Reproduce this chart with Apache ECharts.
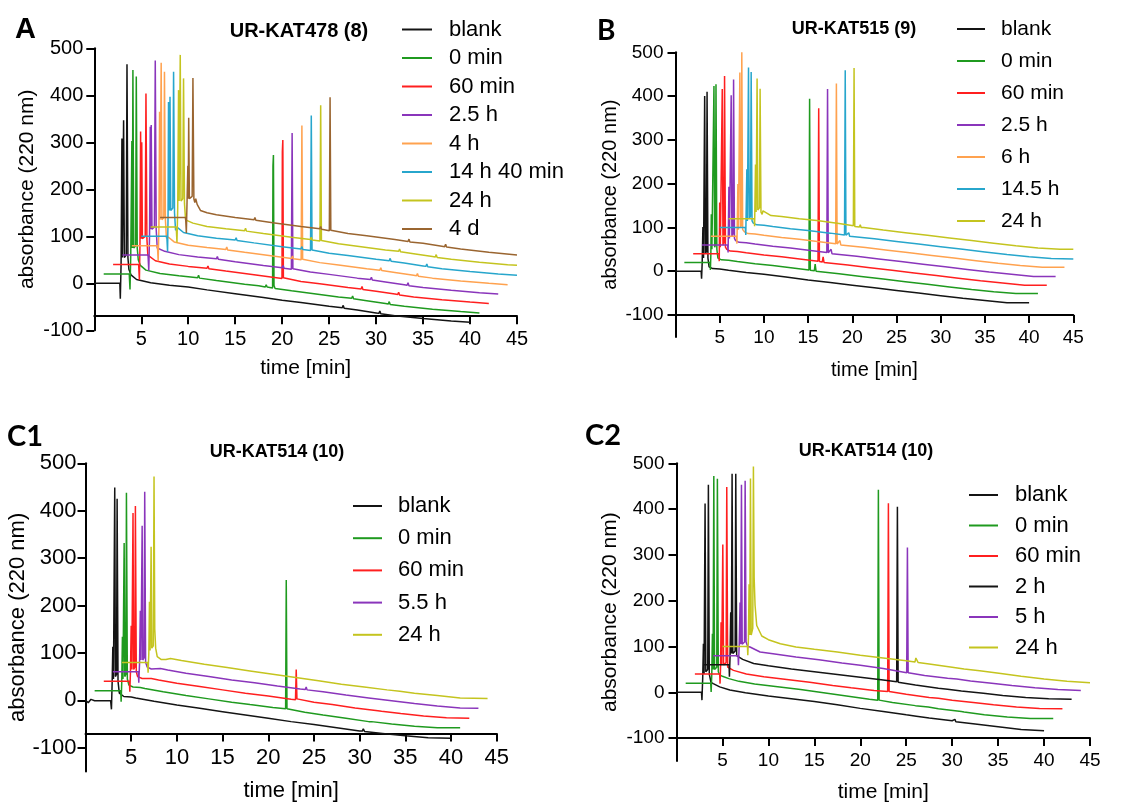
<!DOCTYPE html>
<html><head><meta charset="utf-8">
<script src="https://cdn.jsdelivr.net/npm/echarts@6/dist/echarts.min.js"></script>
<style>html,body{margin:0;padding:0;background:#fff}#c{width:1141px;height:804px}</style>
</head><body><div id="c"></div>
<script>
// ---------- legend names ----------
const namesA = ['blank','0 min','60 min','2.5 h','4 h','14 h 40 min','24 h','4 d'];
const namesB = ['blank','0 min','60 min','2.5 h','6 h','14.5 h','24 h'];
const namesC1 = ['blank','0 min','60 min','5.5 h','24 h'];
const namesC2 = ['blank','0 min','60 min','2 h','5 h','24 h'];
const yTicks = [-100,0,100,200,300,400,500];

// ---------- Panel A: UR-KAT478 (8) ----------
const A_blank = [[0,0],[2.72,0],[2.77,-33],[2.85,40],[2.94,308],[2.99,55],[3.12,347],[3.2,55],[3.4,60],[3.48,466],[3.58,55],[3.68,30],[3.9,18],[4.5,8],[6,1],[8,-4],[10,-8],[12,-14],[15,-22],[18,-30],[20,-36],[22,-41],[25,-49],[26.4,-52],[26.5,-47],[26.6,-53],[28,-57],[30,-63],[30.3,-64],[30.4,-59],[30.5,-65],[32,-69],[35,-75],[38,-80],[40,-83]];
const A_0min = [[1,20],[3.72,20],[3.8,-13],[3.88,60],[4.0,303],[4.05,75],[4.11,454],[4.2,75],[4.4,80],[4.47,440],[4.57,75],[4.68,50],[4.9,38],[5.5,28],[7,21],[9,16],[11,12],[11.1,17],[11.2,11],[13,6],[16,-2],[17.5,-5],[17.6,-1],[17.7,-6],[18.2,-8],[18.3,-3],[18.4,-8],[18.98,-10],[19.02,250],[19.07,273],[19.13,-5],[19.25,-11],[21,-16],[23,-21],[26,-29],[27.4,-32],[27.5,-27],[27.6,-33],[29,-37],[31,-43],[31.3,-44],[31.4,-39],[31.5,-45],[33,-49],[36,-55],[39,-60],[41,-63]];
const A_60min = [[2,40],[4.72,40],[4.8,7],[4.86,80],[4.93,323],[4.98,95],[5.05,300],[5.12,95],[5.42,100],[5.5,404],[5.6,95],[5.7,60],[5.9,58],[6.5,48],[8,41],[10,36],[12,32],[12.1,37],[12.2,31],[14,26],[17,18],[19.98,10],[20.02,280],[20.07,305],[20.13,12],[20.3,8],[22,4],[24,-1],[27,-9],[28.4,-12],[28.5,-7],[28.6,-13],[30,-17],[32,-23],[32.3,-24],[32.4,-19],[32.5,-25],[34,-29],[37,-35],[40,-40],[42,-43]];
const A_2_5h = [[3,60],[5.72,60],[5.8,27],[5.88,100],[5.96,333],[6.01,115],[6.06,337],[6.14,115],[6.4,120],[6.49,474],[6.59,115],[6.7,75],[6.9,78],[7.5,68],[9,61],[11,56],[13,52],[13.1,57],[13.2,51],[15,46],[18,38],[20,33],[20.1,38],[20.2,32],[20.98,30],[21.06,320],[21.14,31],[21.3,28],[23,24],[25,19],[28,11],[29.4,8],[29.5,13],[29.6,7],[31,3],[33,-3],[33.3,-4],[33.4,1],[33.5,-5],[35,-9],[38,-15],[41,-20],[43,-23]];
const A_4h = [[4,80],[6.72,80],[6.8,47],[6.88,120],[6.95,365],[7.0,135],[7.12,469],[7.2,135],[7.4,140],[7.47,450],[7.57,135],[7.68,96],[7.9,98],[8.5,88],[10,81],[12,76],[14,72],[14.1,77],[14.2,71],[16,66],[19,58],[21,53],[21.1,58],[21.2,52],[22.02,50],[22.1,336],[22.18,51],[22.3,48],[24,44],[26,39],[29,31],[30.4,28],[30.5,33],[30.6,27],[32,23],[34,17],[34.3,16],[34.4,21],[34.5,15],[36,11],[39,5],[42,0],[44,-3]];
const A_14h40 = [[5,100],[7.72,100],[7.8,67],[7.85,140],[7.9,386],[7.98,155],[8.06,397],[8.14,155],[8.36,160],[8.44,450],[8.54,150],[8.65,113],[8.9,118],[9.5,108],[11,101],[13,96],[15,92],[15.1,97],[15.2,91],[17,86],[20,78],[22,73],[22.1,78],[22.2,72],[23.02,70],[23.1,357],[23.18,71],[23.3,68],[25,64],[27,59],[30,51],[31.4,48],[31.5,53],[31.6,47],[33,43],[35,37],[35.3,36],[35.4,41],[35.5,35],[37,31],[40,25],[43,20],[45,17]];
const A_24h = [[6,120],[8.72,120],[8.8,87],[8.88,160],[8.97,411],[9.03,175],[9.15,486],[9.23,175],[9.42,180],[9.5,436],[9.6,170],[9.72,135],[9.9,138],[10.5,128],[12,121],[14,116],[16,112],[16.1,117],[16.2,111],[18,106],[21,98],[23,93],[23.1,98],[23.2,92],[24.02,90],[24.1,379],[24.18,91],[24.3,88],[26,84],[28,79],[31,71],[32.4,68],[32.5,73],[32.6,67],[34,63],[36,57],[36.3,56],[36.4,61],[36.5,55],[38,51],[41,45],[44,39.5],[45,38.5]];
const A_4d = [[7,140],[9.72,140],[9.8,107],[9.88,180],[9.96,250],[10.0,180],[10.05,352],[10.12,180],[10.42,185],[10.5,437],[10.6,180],[10.7,172],[10.8,180],[10.95,168],[11.3,155],[12,150],[13,146],[15,140],[17,135],[17.1,140],[17.2,134],[19,129],[22,121],[24,116],[24.1,121],[24.2,115],[25.02,112],[25.1,396],[25.18,113],[25.3,110],[27,106],[29,101],[32,93],[33.4,89],[33.5,94],[33.6,88],[35,85],[37,79],[37.3,78],[37.4,83],[37.5,77],[39,73],[42,66],[45,60]];

// ---------- Panel B: UR-KAT515 (9) ----------
const B_blank = [[0,0],[2.9,0],[2.95,-17],[3.02,20],[3.1,101],[3.17,30],[3.3,400],[3.38,40],[3.5,45],[3.57,410],[3.67,30],[3.8,10],[4.2,6],[5,5],[6,2],[8,-3],[10,-7],[12.5,-13],[15,-20],[17.5,-26],[20,-32],[22.5,-38],[25,-44],[27.5,-50],[30,-56],[32.5,-62],[35,-67],[37.5,-72],[40,-72]];
const B_0min = [[1,20],[3.9,20],[3.95,3],[4.0,40],[4.05,130],[4.12,50],[4.35,423],[4.43,55],[4.52,60],[4.58,427],[4.68,50],[4.8,30],[5.2,26],[6,25],[7,22],[9,17],[11,13],[13.5,7],[15.1,3],[15.17,394],[15.25,2],[15.7,1],[15.8,16],[15.9,0],[16,0],[18.5,-6],[21,-12],[23.5,-18],[26,-24],[28.5,-30],[31,-36],[33.5,-42],[36,-47],[38.5,-51],[41,-51]];
const B_60min = [[2,40],[4.9,40],[4.95,23],[5.0,157],[5.07,55],[5.29,416],[5.37,60],[5.48,65],[5.55,446],[5.65,55],[5.8,50],[6.2,46],[7,45],[8,42],[10,37],[12,33],[14.5,27],[16.12,23],[16.2,372],[16.28,22],[16.6,21],[16.7,33],[16.8,20],[19.5,14],[22,8],[24.5,2],[27,-4],[29.5,-10],[32,-16],[34.5,-22],[37,-27],[39.5,-32],[42,-32]];
const B_2_5h = [[3,60],[5.9,60],[5.95,43],[6.04,193],[6.1,75],[6.3,402],[6.38,80],[6.5,85],[6.57,438],[6.67,75],[6.8,70],[7.2,66],[8,65],[9,62],[11,57],[13,53],[15.5,47],[17.12,43],[17.2,416],[17.28,42],[17.5,41],[17.6,50],[17.7,40],[20.5,34],[23,28],[25.5,22],[28,16],[30.5,10],[33,4],[35.5,-2],[38,-7],[40.5,-12],[43,-12]];
const B_6h = [[4,80],[6.9,80],[6.95,63],[7.06,199],[7.12,95],[7.28,454],[7.36,100],[7.44,105],[7.5,500],[7.6,95],[7.8,90],[8.2,86],[9,85],[10,82],[12,77],[14,73],[16.5,67],[18.12,63],[18.2,429],[18.28,62],[18.5,61],[18.6,70],[18.7,60],[21.5,54],[24,48],[26.5,42],[29,36],[31.5,30],[34,24],[36.5,18],[39,13],[41.5,9],[44,9]];
const B_14_5h = [[5,100],[7.9,100],[7.95,83],[8.07,233],[8.13,115],[8.26,465],[8.34,120],[8.48,125],[8.56,455],[8.66,115],[8.8,110],[9.2,106],[10,105],[11,102],[13,97],[15,93],[17.5,87],[19.12,83],[19.2,459],[19.28,82],[19.5,81],[19.6,88],[19.7,80],[22.5,74],[25,68],[27.5,62],[30,56],[32.5,50],[35,44],[37.5,38],[40,33],[42.5,29],[45,28]];
const B_24h = [[6,120],[8.9,120],[8.95,103],[9.05,244],[9.12,135],[9.23,440],[9.31,140],[9.5,145],[9.57,417],[9.67,135],[9.8,130],[9.9,138],[10.1,134],[10.8,127],[12,125],[14,120],[16,116],[18.5,109],[20.12,104],[20.2,464],[20.28,102],[20.8,101],[20.9,106],[21.0,100],[21.3,100],[21.4,104],[21.5,99],[23.5,94],[26,88],[28.5,82],[31,76],[33.5,70],[36,64],[38.5,58],[41,53],[43.5,50],[45,50]];

// ---------- Panel C1: UR-KAT514 (10) ----------
const C1_blank = [[0,0],[0.3,-5],[0.6,2],[1,-1],[2.75,-1],[2.84,-19],[2.92,40],[2.99,113],[3.06,45],[3.2,449],[3.27,50],[3.4,55],[3.46,425],[3.56,40],[3.7,15],[4.2,8],[5,7],[5.5,5],[7.5,-2],[10,-10],[12.5,-17],[15,-24],[17.5,-31],[20,-38],[22.5,-45],[25,-51],[27.5,-58],[30,-65],[30.3,-65],[30.4,-60],[30.55,-66],[32.5,-70],[35,-75],[37.5,-79],[40,-80]];
const C1_0min = [[1,20],[3.85,20],[3.9,-3],[3.97,40],[4.04,134],[4.1,45],[4.23,332],[4.3,50],[4.42,55],[4.48,438],[4.58,45],[4.75,32],[5.2,28],[6,27],[6.5,25],[8.5,18],[11,10],[13.5,3],[16,-4],[18,-9],[18.1,-5],[18.2,-10],[20.5,-15],[21.9,-18],[21.97,254],[22.05,-18],[22.2,-22],[24,-25],[26,-31],[28.5,-38],[31,-45],[31.3,-45],[31.4,-41],[31.5,-46],[33.5,-50],[36,-55],[38.5,-58],[41,-58]];
const C1_60min = [[2,40],[4.8,40],[4.85,18],[4.92,60],[5.0,157],[5.07,65],[5.2,395],[5.27,65],[5.4,70],[5.46,410],[5.56,60],[5.7,50],[6.2,46],[7.2,46],[8,43],[10,36],[12.5,29],[15,22],[17.5,15],[20,9],[22.5,2],[22.98,1],[23.06,65],[23.14,3],[23.3,0],[25,-4],[27,-9],[29.5,-16],[32,-22],[32.4,-23],[32.5,-19],[32.6,-24],[34.5,-28],[37,-33],[39.5,-37],[42,-38]];
const C1_5_5h = [[3,60],[5.78,60],[5.83,37],[5.92,80],[6.0,189],[6.07,85],[6.2,368],[6.27,85],[6.42,90],[6.48,440],[6.58,80],[6.75,70],[7.2,66],[8.2,67],[9,64],[11,57],[13.5,50],[16,43],[18.5,37],[21,30],[23.5,24],[24.05,23],[24.15,28],[24.25,22],[26,18],[28.5,11],[31,5],[33.5,-1],[36,-7],[38.5,-12],[41,-16],[43,-17]];
const C1_24h = [[4,80],[6.8,80],[6.85,58],[6.93,100],[7.0,208],[7.07,105],[7.18,324],[7.25,110],[7.42,115],[7.5,472],[7.58,150],[7.68,110],[7.85,92],[8.3,86],[8.8,86],[9.3,88],[10.5,84],[13,76],[15.5,69],[18,62],[20.5,55],[23,48],[25.5,41],[28,34],[30.5,28],[33,22],[34.4,19],[34.5,23],[34.6,18],[36,15],[38.5,10],[41,5],[44,4]];

// ---------- Panel C2: UR-KAT514 (10) ----------
const C2_blank = [[0,0],[2.72,0],[2.77,-17],[2.85,30],[2.93,106],[3.0,40],[3.11,412],[3.19,45],[3.4,50],[3.47,453],[3.57,40],[3.75,22],[4.0,19],[4.7,12],[5.8,5],[7.5,-1],[10,-8],[12.5,-14],[15,-20],[17.5,-27],[20,-35],[22.5,-42],[25,-49],[26.1,-52],[26.2,-48],[26.3,-53],[27.5,-56],[30,-62],[30.2,-63],[30.3,-59],[30.4,-64],[32.5,-69],[35,-75],[37.5,-81],[40,-84]];
const C2_0min = [[1,20],[3.72,20],[3.77,1],[3.84,40],[3.91,128],[3.98,50],[4.06,472],[4.14,50],[4.38,55],[4.45,466],[4.55,45],[4.7,38],[5,35],[5.7,30],[6.8,24],[8.5,18],[11,12],[13.5,6],[16,-1],[18.5,-8],[18.6,-4],[18.7,-9],[21,-15],[21.9,-17],[21.97,442],[22.05,-17],[22.2,-20],[23.5,-22],[26,-29],[27.4,-32],[27.5,-28],[27.6,-33],[28.5,-36],[31,-42],[31.3,-43],[31.4,-39],[31.5,-44],[33.5,-49],[36,-54],[38.5,-57],[41,-57]];
const C2_60min = [[2,40],[4.7,40],[4.74,19],[4.8,60],[4.85,153],[4.92,60],[5.04,323],[5.12,60],[5.4,65],[5.47,448],[5.57,55],[5.75,52],[6.2,48],[7.6,40],[9.5,34],[12,28],[14.5,22],[17,15],[19,10],[19.1,14],[19.2,9],[21.5,4],[22.98,2],[23.06,413],[23.14,2],[23.3,-1],[25,-4],[27.5,-11],[28.5,-13],[28.6,-9],[28.7,-14],[30,-17],[32.3,-22],[32.4,-18],[32.5,-23],[34.5,-27],[37,-32],[39.5,-35],[42,-36]];
const C2_2h = [[3,60],[5.72,60],[5.76,34],[5.83,80],[5.9,175],[5.97,85],[6.05,477],[6.13,85],[6.38,90],[6.45,477],[6.55,80],[6.75,77],[7.2,72],[8.4,63],[10,58],[12.5,51],[15,45],[17.5,39],[20,33],[20.1,37],[20.2,32],[22.5,27],[23.96,23],[24.04,405],[24.12,22],[24.3,19],[26,16],[28.5,9],[29.5,7],[29.6,11],[29.7,6],[31,3],[33.4,-2],[33.5,2],[33.6,-3],[35.5,-7],[38,-11],[40.5,-14],[43,-15]];
const C2_5h = [[4,80],[6.7,80],[6.74,59],[6.82,100],[6.92,196],[6.99,105],[7.07,453],[7.15,105],[7.4,110],[7.47,462],[7.57,110],[7.75,100],[8.0,99],[9.1,88],[10.5,84],[13,77],[15.5,71],[18,64],[20,59],[20.1,63],[20.2,58],[22.5,52],[25.05,43],[25.13,316],[25.21,43],[25.4,40],[27,37],[29.5,31],[30.5,29],[30.6,33],[30.7,28],[32,25],[34.3,20],[34.4,24],[34.5,19],[36.5,15],[39,10],[41.5,6],[44,4]];
const C2_24h = [[5,100],[7.72,100],[7.76,81],[7.83,120],[7.9,236],[7.97,125],[8.05,467],[8.13,125],[8.3,140],[8.37,493],[8.45,250],[8.55,190],[8.73,146],[9.28,123],[10,115],[11.3,106],[13,99],[15,94],[17.5,88],[20,81],[22.5,75],[25,69],[25.95,66],[26.05,75],[26.15,73],[26.3,65],[27.5,62],[30,55],[31.3,51],[31.4,55],[31.5,50],[33,47],[35.3,41],[35.4,45],[35.5,40],[37.5,35],[40,29],[42.5,24],[45,21]];

// ---------- styling ----------
const COL = {black:'#141414', green:'#1f9a1f', red:'#ff1f1f', purple:'#8a35bb', orange:'#ffa24f', cyan:'#27a6cc', yellow:'#c4c41f', brown:'#9a6530'};
const FONT = '"Liberation Sans", Arial, sans-serif';

const panels = [
  {names:namesA, data:[A_blank,A_0min,A_60min,A_2_5h,A_4h,A_14h40,A_24h,A_4d],
   colors:[COL.black,COL.green,COL.red,COL.purple,COL.orange,COL.cyan,COL.yellow,COL.brown],
   grid:{left:94.3, top:48.3, width:422.7, height:282}, yMin:-100, cross:-70,
   tickFs:20, nameFs:21, yGap:57, xGap:42, yLabMargin:11, xLabMargin:13,
   legend:{left:402, top:18.5, itemWidth:30, itemGap:6.5, fs:22, lh:20.5, pad:12}},
  {names:namesB, data:[B_blank,B_0min,B_60min,B_2_5h,B_6h,B_14_5h,B_24h],
   colors:[COL.black,COL.green,COL.red,COL.purple,COL.orange,COL.cyan,COL.yellow],
   grid:{left:675.5, top:52.3, width:397.8, height:284.6}, yMin:-150, cross:-100,
   tickFs:19, nameFs:20, yGap:55, xGap:45, yLabMargin:12, xLabMargin:13,
   legend:{left:957, top:18, itemWidth:28, itemGap:10, fs:21, lh:22, pad:11}},
  {names:namesC1, data:[C1_blank,C1_0min,C1_60min,C1_5_5h,C1_24h],
   colors:[COL.black,COL.green,COL.red,COL.purple,COL.yellow],
   grid:{left:85.5, top:463.3, width:411.2, height:308.1}, yMin:-150, cross:-70,
   tickFs:22, nameFs:22, yGap:54, xGap:46, yLabMargin:9, xLabMargin:13,
   legend:{left:353, top:495, itemWidth:29, itemGap:10.2, fs:22, lh:22, pad:11}},
  {names:namesC2, data:[C2_blank,C2_0min,C2_60min,C2_2h,C2_5h,C2_24h],
   colors:[COL.black,COL.green,COL.red,COL.black,COL.purple,COL.yellow],
   grid:{left:676.5, top:463.3, width:413.5, height:299.8}, yMin:-150, cross:-100,
   tickFs:19, nameFs:21, yGap:56, xGap:44, yLabMargin:12, xLabMargin:13,
   legend:{left:969, top:484, itemWidth:29, itemGap:8.5, fs:22, lh:22, pad:12}}
];

const grids=[], xAxes=[], yAxes=[], series=[], legends=[];
panels.forEach((p,gi)=>{
  grids.push(Object.assign({containLabel:false}, p.grid));
  const yMax = 500;
  const off = -(p.cross - p.yMin)/(yMax - p.yMin)*p.grid.height;
  xAxes.push({type:'value', gridIndex:gi, min:0, max:45, interval:5, position:'bottom', offset:off,
    axisLine:{show:true, onZero:false, lineStyle:{color:'#000', width:2}},
    axisTick:{show:true, length:8, lineStyle:{color:'#000', width:2}},
    axisLabel:{color:'#000', fontSize:p.tickFs, fontFamily:FONT, margin:p.xLabMargin, formatter:v=> v===0?'':String(v)},
    splitLine:{show:false},
    name:'time [min]', nameLocation:'middle', nameGap:p.xGap,
    nameTextStyle:{color:'#000', fontSize:p.nameFs, fontFamily:FONT}});
  yAxes.push({type:'value', gridIndex:gi, min:p.yMin, max:yMax,
    axisLine:{show:true, onZero:false, lineStyle:{color:'#000', width:2}},
    axisTick:{show:true, length:8, customValues:yTicks, lineStyle:{color:'#000', width:2}},
    axisLabel:{color:'#000', fontSize:p.tickFs, fontFamily:FONT, margin:p.yLabMargin, customValues:yTicks},
    splitLine:{show:false},
    name:'absorbance (220 nm)', nameLocation:'middle', nameGap:p.yGap,
    nameTextStyle:{color:'#000', fontSize:p.nameFs, fontFamily:FONT}});
  p.data.forEach((d,i)=>{
    series.push({type:'line', name:p.names[i], xAxisIndex:gi, yAxisIndex:gi, data:d,
      symbol:'none', showSymbol:false, clip:false, animation:false, silent:true,
      color:p.colors[i], lineStyle:{color:p.colors[i], width:1.5}});
  });
  const L = p.legend;
  legends.push({orient:'vertical', left:L.left, top:L.top, padding:0, selectedMode:false,
    icon:'rect', itemWidth:L.itemWidth, itemHeight:2, itemGap:L.itemGap,
    data:p.names.map((n,i)=>({name:n, itemStyle:{color:p.colors[i]}})),
    textStyle:{color:'#000', fontSize:L.fs, fontFamily:FONT, lineHeight:L.lh, padding:[0,0,0,L.pad]}});
});

const txt = (x,y,t,font,align)=>({type:'text', x:x, y:y, silent:true,
  style:{text:t, font:font, fill:'#000', textAlign:align||'left', textVerticalAlign:'middle'}});
const graphic = [
  txt(15,30,'A','bold 29px "Liberation Sans", Arial, sans-serif'),
  txt(597,30.5,'B','bold 28px Lato, "Liberation Sans", sans-serif'),
  txt(7,437,'C1','bold 29px Lato, "Liberation Sans", sans-serif'),
  txt(585,436,'C2','bold 29px Lato, "Liberation Sans", sans-serif'),
  txt(299,31,'UR-KAT478 (8)','bold 20px "Liberation Sans", Arial, sans-serif','center'),
  txt(854,29,'UR-KAT515 (9)','bold 18px "Liberation Sans", Arial, sans-serif','center'),
  txt(277,452,'UR-KAT514 (10)','bold 18px "Liberation Sans", Arial, sans-serif','center'),
  txt(866,451,'UR-KAT514 (10)','bold 18px "Liberation Sans", Arial, sans-serif','center')
];

const chart = echarts.init(document.getElementById('c'), null, {renderer:'canvas'});
chart.setOption({animation:false, backgroundColor:'#fff', grid:grids, xAxis:xAxes, yAxis:yAxes,
  series:series, legend:legends, graphic:graphic});
</script></body></html>
